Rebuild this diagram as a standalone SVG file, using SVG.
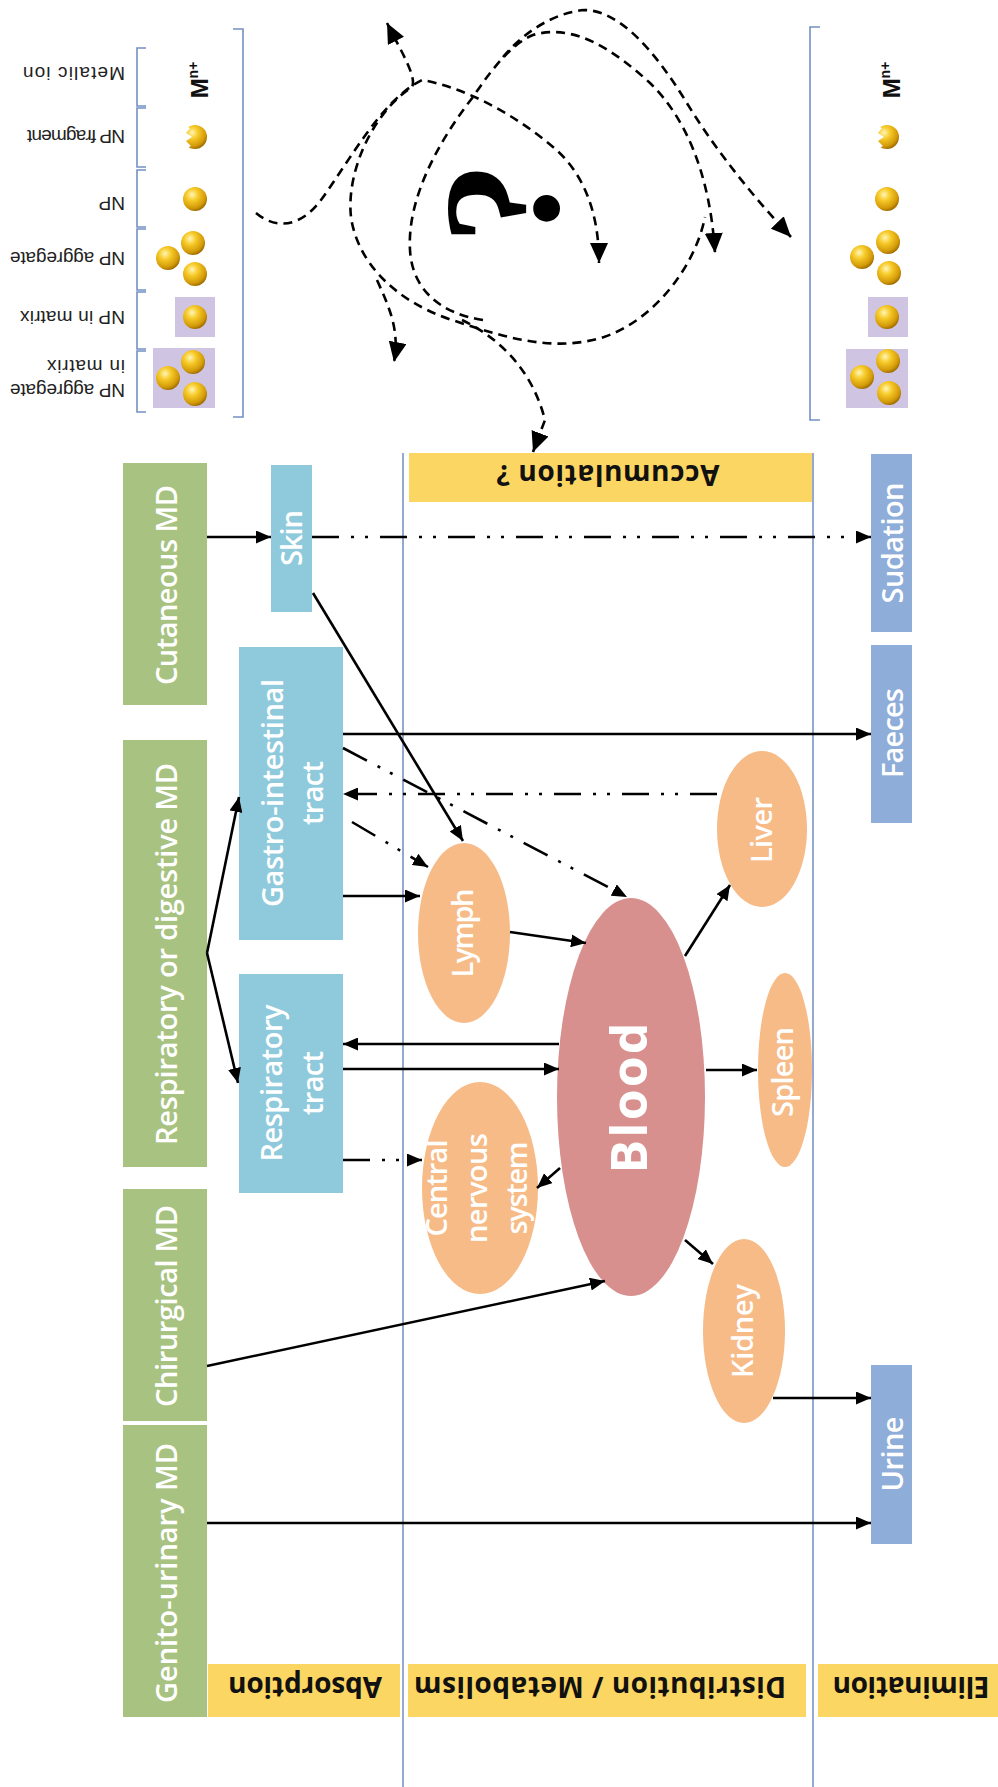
<svg xmlns="http://www.w3.org/2000/svg" width="998" height="1787" viewBox="0 0 998 1787">
<style>
.green{fill:#A8C381}
.blue{fill:#8FCADC}
.elim{fill:#8EADD9}
.org{fill:#F7BB88}
.yel{fill:#FCD662}
.wt{fill:#FFFFFF;font-family:"Open Sans","Noto Sans",sans-serif;font-weight:600;font-size:29px;text-anchor:middle}
.bt{fill:#111111;font-family:"Open Sans","Noto Sans",sans-serif;font-weight:700;font-size:28px;text-anchor:middle}
.lab{fill:#222222;font-family:"Liberation Sans",Arial,sans-serif;font-size:19px;text-anchor:start}
.mn{fill:#111111;font-family:"Liberation Sans",Arial,sans-serif;font-weight:700;font-size:24px;text-anchor:middle}
.sep{stroke:#8A9FCB;stroke-width:1.8;fill:none}
.brk{stroke:#7490C2;stroke-width:1.6;fill:none}
.con{stroke:#000000;stroke-width:2.6;fill:none;marker-end:url(#ah)}
.dd{stroke:#000000;stroke-width:2.6;fill:none;stroke-dasharray:27 12 3 11 3 12;marker-end:url(#ah)}
.sq{stroke:#000000;stroke-width:2.6;fill:none;stroke-dasharray:9 6}
.mat{fill:#CFC5E2}
.np{fill:url(#gold)}
</style>
<defs>
<marker id="ah" markerUnits="userSpaceOnUse" markerWidth="16" markerHeight="13" refX="15" refY="6.5" orient="auto">
<path d="M0,0 L15,6.5 L0,13 z" fill="#000"/>
</marker>
<marker id="bh" markerUnits="userSpaceOnUse" markerWidth="22" markerHeight="18" refX="20" refY="9" orient="auto-start-reverse">
<path d="M0,0 L20,9 L0,18 z" fill="#000"/>
</marker>
<radialGradient id="gold" cx="0.38" cy="0.32" r="0.7">
<stop offset="0" stop-color="#FFF6B8"/>
<stop offset="0.35" stop-color="#F7CB2A"/>
<stop offset="0.8" stop-color="#D39A08"/>
<stop offset="1" stop-color="#9E6C00"/>
</radialGradient>
</defs>
<rect width="998" height="1787" fill="#FFFFFF"/>

<g id="separators">
<line class="sep" x1="403" y1="453" x2="403" y2="1787"/>
<line class="sep" x1="813" y1="453" x2="813" y2="1787"/>
</g>

<g id="legend-left">
<path class="brk" d="M233,29 H243 V417 H233"/>
<path class="brk" d="M146,48 H137 V106 H146"/>
<path class="brk" d="M146,108 H137 V167 H146"/>
<path class="brk" d="M146,170 H137 V227 H146"/>
<path class="brk" d="M146,229 H137 V290 H146"/>
<path class="brk" d="M146,292 H137 V349 H146"/>
<path class="brk" d="M146,351 H137 V412 H146"/>
<text class="lab" transform="translate(125,67) rotate(180)" textLength="102">Metalic ion</text>
<text class="lab" transform="translate(125,130) rotate(180)" textLength="98">NP fragment</text>
<text class="lab" transform="translate(125,197) rotate(180)">NP</text>
<text class="lab" transform="translate(125,252) rotate(180)" textLength="115">NP aggregate</text>
<text class="lab" transform="translate(125,311) rotate(180)" textLength="105">NP in matrix</text>
<text class="lab" transform="translate(125,384) rotate(180)"><tspan x="0" textLength="115">NP aggregate</tspan><tspan x="0" dy="24" textLength="78">in matrix</tspan></text>
<text class="mn" transform="translate(208,80) rotate(-90)">M<tspan font-size="14" dy="-10">n+</tspan></text>
<circle class="np" cx="195" cy="137" r="12"/>
<path d="M181,124 L190,128 L186,133 L192,137 L186,141 L191,146 L181,151 Z" fill="#FFFFFF"/>
<circle class="np" cx="195" cy="199" r="12"/>
<circle class="np" cx="193" cy="243" r="12"/>
<circle class="np" cx="168" cy="258" r="12"/>
<circle class="np" cx="195" cy="274" r="12"/>
<rect class="mat" x="175" y="297" width="40" height="40"/>
<circle class="np" cx="195" cy="317" r="12"/>
<rect class="mat" x="153" y="348" width="62" height="60"/>
<circle class="np" cx="193" cy="362" r="12"/>
<circle class="np" cx="168" cy="378" r="12"/>
<circle class="np" cx="195" cy="394" r="12"/>
</g>

<g id="legend-right">
<path class="brk" d="M820,27 H810 V420 H820"/>
<text class="mn" transform="translate(900,80) rotate(-90)">M<tspan font-size="14" dy="-10">n+</tspan></text>
<circle class="np" cx="887" cy="137" r="12"/>
<path d="M873,124 L882,128 L878,133 L884,137 L878,141 L883,146 L873,151 Z" fill="#FFFFFF"/>
<circle class="np" cx="887" cy="199" r="12"/>
<circle class="np" cx="888" cy="242" r="12"/>
<circle class="np" cx="862" cy="257" r="12"/>
<circle class="np" cx="889" cy="273" r="12"/>
<rect class="mat" x="868" y="297" width="40" height="40"/>
<circle class="np" cx="887" cy="317" r="12"/>
<rect class="mat" x="846" y="349" width="62" height="59"/>
<circle class="np" cx="888" cy="361" r="12"/>
<circle class="np" cx="862" cy="377" r="12"/>
<circle class="np" cx="889" cy="393" r="12"/>
</g>

<g id="unknown-fate">
<text transform="translate(558,203) rotate(-90)" font-family="Liberation Serif,serif" font-weight="700" font-size="165" text-anchor="middle" fill="#000">?</text>
<path class="sq" marker-end="url(#bh)" d="M256,213 C276,230 301,227 321,200 C352,157 382,100 422,80 C463,87 513,113 553,147 C584,173 599,213 599,263"/>
<path class="sq" marker-start="url(#bh)" d="M387,23 C402,53 417,77 412,87 C372,113 346,173 351,217 C357,260 392,300 452,320 C503,337 553,353 604,337 C654,320 695,267 705,217"/>
<path class="sq" marker-end="url(#bh)" d="M483,320 C437,313 412,287 410,250 C407,200 437,143 473,97 C493,67 513,43 533,35 C574,23 614,50 650,83 C685,117 710,173 715,253"/>
<path class="sq" marker-end="url(#bh)" d="M503,57 C523,33 553,13 584,10 C619,10 654,50 685,100 C715,150 756,200 791,237"/>
<path class="sq" marker-end="url(#bh)" d="M377,280 C389,307 400,330 394,362"/>
<path class="sq" marker-end="url(#bh)" d="M462,320 C503,340 533,373 545,420 L533,452"/>
</g>

<g id="lbl-absorption"><rect class="yel" x="208" y="1664" width="192" height="53"/><text class="bt" transform="translate(305,1677) rotate(180)" textLength="154">Absorption</text></g>
<g id="lbl-distribution"><rect class="yel" x="408" y="1664" width="398" height="53"/><text class="bt" transform="translate(600,1677) rotate(180)" textLength="372">Distribution / Metabolism</text></g>
<g id="lbl-elimination"><rect class="yel" x="818" y="1664" width="180" height="53"/><text class="bt" transform="translate(911,1677) rotate(180)" textLength="157">Elimination</text></g>
<g id="lbl-accumulation"><rect class="yel" x="409" y="453" width="403" height="49"/><text class="bt" transform="translate(608,465) rotate(180)" textLength="223">Accumulation ?</text></g>

<g id="cutaneous"><rect class="green" x="123" y="463" width="84" height="242"/><text class="wt" transform="translate(177,585) rotate(-90)" textLength="200">Cutaneous MD</text></g>
<g id="respdig"><rect class="green" x="123" y="740" width="84" height="427"/><text class="wt" transform="translate(177,954) rotate(-90)" textLength="382">Respiratory or digestive MD</text></g>
<g id="chirurgical"><rect class="green" x="123" y="1189" width="84" height="232"/><text class="wt" transform="translate(177,1306) rotate(-90)" textLength="202">Chirurgical MD</text></g>
<g id="genito"><rect class="green" x="123" y="1425" width="84" height="292"/><text class="wt" transform="translate(177,1573) rotate(-90)" textLength="260">Genito-urinary MD</text></g>

<g id="skin"><rect class="blue" x="271" y="465" width="41" height="147"/><text class="wt" transform="translate(302,538) rotate(-90)" textLength="56">Skin</text></g>
<g id="gastro"><rect class="blue" x="239" y="647" width="104" height="293"/><text class="wt" transform="translate(283,793) rotate(-90)"><tspan x="0" textLength="228">Gastro-intestinal</tspan><tspan x="0" dy="40" textLength="64">tract</tspan></text></g>
<g id="resp"><rect class="blue" x="239" y="974" width="104" height="219"/><text class="wt" transform="translate(282,1083) rotate(-90)"><tspan x="0" textLength="157">Respiratory</tspan><tspan x="0" dy="41" textLength="64">tract</tspan></text></g>

<g id="lymph"><ellipse class="org" cx="464" cy="933" rx="46" ry="90"/><text class="wt" transform="translate(473,933) rotate(-90)" textLength="89">Lymph</text></g>
<g id="cns"><ellipse class="org" cx="480" cy="1188" rx="58" ry="106"/><text class="wt" transform="translate(447,1188) rotate(-90)"><tspan x="0" textLength="97">Central</tspan><tspan x="0" dy="40" textLength="110">nervous</tspan><tspan x="0" dy="40" textLength="93">system</tspan></text></g>
<g id="blood"><ellipse cx="631" cy="1097" rx="74" ry="199" fill="#D8908F"/><text transform="translate(647,1098) rotate(-90)" fill="#FFFFFF" font-family="Open Sans,Noto Sans,sans-serif" font-weight="700" font-size="50" text-anchor="middle" textLength="151">Blood</text></g>
<g id="liver"><ellipse class="org" cx="762" cy="829" rx="45" ry="78"/><text class="wt" transform="translate(772,830) rotate(-90)" textLength="66">Liver</text></g>
<g id="spleen"><ellipse class="org" cx="785" cy="1070" rx="27" ry="97"/><text class="wt" transform="translate(793,1072) rotate(-90)" textLength="90">Spleen</text></g>
<g id="kidney"><ellipse class="org" cx="744" cy="1331" rx="41" ry="92"/><text class="wt" transform="translate(753,1331) rotate(-90)" textLength="94">Kidney</text></g>

<g id="sudation"><rect class="elim" x="871" y="454" width="41" height="178"/><text class="wt" transform="translate(903,543) rotate(-90)" textLength="121">Sudation</text></g>
<g id="faeces"><rect class="elim" x="871" y="645" width="41" height="178"/><text class="wt" transform="translate(903,733) rotate(-90)" textLength="90">Faeces</text></g>
<g id="urine"><rect class="elim" x="871" y="1365" width="41" height="179"/><text class="wt" transform="translate(903,1454) rotate(-90)" textLength="75">Urine</text></g>

<g id="connectors">
<path class="con" d="M207,537 L271,537"/>
<path class="dd" d="M312,537 L871,537"/>
<path class="con" d="M313,593 L463,841"/>
<path class="con" d="M207,953 L239,797"/>
<path class="con" d="M207,953 L238,1083"/>
<path class="con" d="M343,734 L871,734"/>
<path class="dd" d="M343,748 L627,897"/>
<path class="dd" d="M717,794 L343,794"/>
<path class="dd" d="M352,822 L428,867"/>
<path class="con" d="M343,896 L420,896"/>
<path class="con" d="M510,932 L586,943"/>
<path class="con" d="M559,1044 L343,1044"/>
<path class="con" d="M343,1069 L559,1069"/>
<path class="dd" d="M343,1160 L422,1160"/>
<path class="con" d="M560,1168 L537,1188"/>
<path class="con" d="M685,956 L730,885"/>
<path class="con" d="M706,1070 L757,1070"/>
<path class="con" d="M207,1366 L605,1281"/>
<path class="con" d="M685,1240 L713,1264"/>
<path class="con" d="M773,1398 L871,1398"/>
<path class="con" d="M207,1523 L871,1523"/>
</g>
</svg>
